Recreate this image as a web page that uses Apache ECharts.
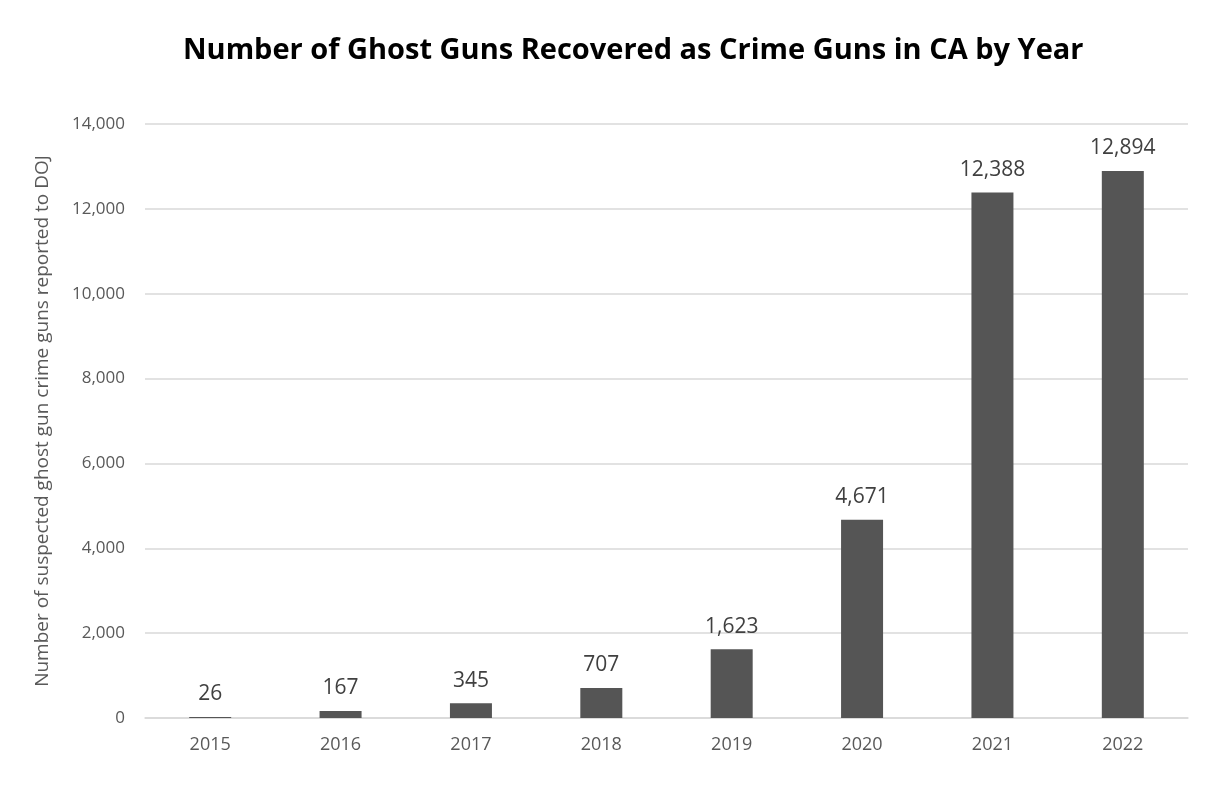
<!DOCTYPE html>
<html><head><meta charset="utf-8">
<script src="https://cdn.jsdelivr.net/npm/echarts@6/dist/echarts.min.js"></script>
<style>html,body{margin:0;padding:0;background:#fff}#c{width:1209px;height:804px}</style>
</head><body><div id="c"></div>
<script>
var categories = ['2015','2016','2017','2018','2019','2020','2021','2022'];
var values = [26,167,345,707,1623,4671,12388,12894];
var yTicks = [0,2000,4000,6000,8000,10000,12000,14000];
var titleText = 'Number of Ghost Guns Recovered as Crime Guns in CA by Year';
var yName = 'Number of suspected ghost gun crime guns reported to DOJ';

var chart = echarts.init(document.getElementById('c'));
chart.setOption({
  animation:false,
  title:{text:titleText,left:178,top:31,textStyle:{fontFamily:'Open Sans',fontWeight:'bold',fontSize:29,color:'#000'}},
  grid:{left:145,right:21,top:124,bottom:86},
  xAxis:{type:'category',data:categories,
    axisLine:{lineStyle:{color:'#d9d9d9',width:1.5}},axisTick:{show:false},
    axisLabel:{color:'#595959',fontSize:18,fontFamily:'Open Sans',margin:18}},
  yAxis:{type:'value',min:yTicks[0],max:yTicks[yTicks.length-1],interval:2000,
    name:yName,nameLocation:'middle',nameGap:93,nameRotate:90,
    nameTextStyle:{color:'#595959',fontSize:19,fontFamily:'Open Sans'},
    axisLine:{show:false},axisTick:{show:false},
    splitLine:{lineStyle:{color:'#d9d9d9',width:1.5}},
    axisLabel:{color:'#595959',fontSize:17,fontFamily:'Open Sans',margin:20,
      formatter:function(v){return v.toLocaleString('en-US');}}},
  series:[{type:'bar',data:values,barWidth:42,itemStyle:{color:'#555555'},
    label:{show:true,position:'top',distance:12,color:'#404040',fontSize:21,fontFamily:'Open Sans',
      formatter:function(p){return p.value.toLocaleString('en-US');}}}]
});
</script></body></html>
